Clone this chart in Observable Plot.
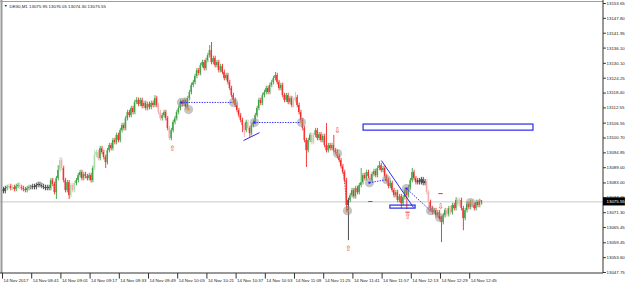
<!DOCTYPE html>
<html><head><meta charset="utf-8">
<script src="https://cdn.jsdelivr.net/npm/d3@7"></script>
<script src="https://cdn.jsdelivr.net/npm/@observablehq/plot@0.6"></script>
<style>html,body{margin:0;padding:0;background:#fff;overflow:hidden}</style>
</head><body><div id="chart"></div>
<script>
// ---- data ----
const symbol = "DE30,M1";
const titleOHLC = [13075.95, 13076.05, 13074.30, 13075.55];
const firstOpen = 13080.4;
const closes = [
13079.6,13080.8,13081.2,13081.6,13080.8,13081.2,13080.4,13081.6,13082.0,13081.2,
13080.8,13080.4,13080.0,13080.8,13081.2,13081.2,13081.6,13081.2,13082.0,13082.4,
13082.0,13081.6,13081.2,13080.8,13081.2,13080.8,13083.9,13082.4,13079.2,13084.7,
13087.9,13091.8,13088.7,13083.9,13080.0,13083.1,13078.0,13082.0,13080.0,13082.8,
13083.9,13085.9,13087.1,13084.7,13086.3,13085.5,13084.7,13085.9,13083.9,13088.7,
13093.8,13095.0,13092.6,13096.5,13095.0,13093.0,13091.0,13095.7,13097.7,13096.5,
13099.7,13098.9,13101.7,13099.7,13103.6,13105.6,13104.4,13108.3,13110.7,13109.5,
13112.3,13110.7,13114.7,13115.5,13113.9,13115.5,13113.1,13114.3,13112.3,13113.9,
13112.7,13114.3,13113.5,13116.2,13113.5,13110.7,13108.3,13109.5,13110.7,13108.3,
13104.4,13100.5,13103.6,13106.8,13108.3,13110.7,13112.3,13114.7,13113.9,13115.5,
13112.7,13116.2,13118.6,13121.4,13122.5,13124.9,13127.2,13126.1,13129.2,13130.4,
13128.0,13131.2,13133.1,13135.1,13130.4,13132.0,13129.2,13130.4,13127.2,13128.8,
13126.5,13124.1,13125.3,13122.5,13120.2,13117.4,13115.5,13113.5,13111.5,13109.5,
13107.6,13105.6,13103.6,13106.8,13104.4,13102.4,13105.6,13106.8,13109.5,13112.3,
13115.5,13114.3,13117.4,13118.6,13120.2,13118.6,13121.4,13122.5,13124.1,13125.3,
13122.5,13120.2,13121.4,13117.4,13115.5,13117.4,13114.7,13116.2,13113.5,13115.5,
13116.6,13113.5,13110.7,13107.6,13104.4,13099.7,13095.7,13099.7,13101.7,13098.9,
13101.7,13103.6,13100.5,13102.0,13099.7,13101.3,13097.7,13095.7,13097.7,13096.5,
13097.7,13095.7,13095.0,13093.4,13091.8,13089.4,13087.1,13083.9,13074.1,13076.1,
13078.0,13080.0,13077.6,13080.8,13079.2,13082.0,13083.1,13085.9,13084.7,13087.1,
13085.5,13083.9,13086.3,13087.5,13085.9,13088.7,13089.8,13087.9,13088.7,13085.5,
13083.9,13081.6,13082.8,13080.0,13078.0,13079.2,13076.1,13077.6,13074.9,13077.2,
13080.0,13078.0,13081.2,13083.9,13087.1,13084.7,13083.1,13083.9,13083.1,13084.3,
13082.8,13083.5,13079.2,13075.3,13072.9,13071.3,13072.1,13070.1,13071.3,13069.0,
13067.4,13070.1,13072.1,13070.5,13072.9,13071.3,13074.1,13072.9,13076.1,13074.5,
13076.1,13072.9,13069.0,13072.1,13074.5,13073.3,13075.3,13074.1,13072.9,13075.3,
13074.1,13075.7,13075.55
];
// bars whose wicks stick out noticeably (null = short wick)
const wickBars = [29,30,31,36,50,56,73,83,91,113,114,131,132,135,149,160,166,177,181,188,189,196,206,218,221,224,233,240,248,252];
const wickHigh = [null,13089.8,13093.0,null,13095.7,null,13116.6,13117.4,null,13137.1,13138.3,null,null,null,13126.5,13118.6,null,13106.4,13101.7,null,null,13088.7,13091.4,null,null,13088.7,null,null,13077.2,null];
const wickLow  = [13076.5,null,null,13076.5,null,13088.7,null,null,13099.7,null,null,13102.8,13100.9,13100.9,null,null,13089.1,null,null,13071.3,13060.3,null,null,13072.9,13072.5,null,13070.9,13059.5,null,13064.2];
const lightBars = [3,5,9,31,32,37,38,39,50,51,52,85,86,91,132,134,159,160,169,170,201,232,233,243,245,249,250,257];
const blackBars = [0,1,15,16,17,18,19,20,21,22,23,24,25,189,227,228,229,230,231];

const priceTicks = [13153.65,13147.80,13141.95,13136.10,13130.10,13124.25,13118.40,13112.55,13106.55,13100.70,13094.85,13089.00,13083.00,13077.15,13071.30,13065.45,13059.45,13053.60,13047.75];
const timeTickBars = [0,16,32,48,64,80,96,112,128,144,160,176,192,208,224,240,256];
const timeTickLabels = ["14 Nov 2017","14 Nov 08:41","14 Nov 09:01","14 Nov 09:17","14 Nov 09:33","14 Nov 09:49","14 Nov 10:05","14 Nov 10:21","14 Nov 10:37","14 Nov 10:53","14 Nov 11:09","14 Nov 11:25","14 Nov 11:41","14 Nov 11:57","14 Nov 12:13","14 Nov 12:29","14 Nov 12:45"];

// annotation objects (bar index, price)
const markerBar   = [97.5,101.4,126,137.5,163.3,183,188.5,200.5,209.9,220.8,234,239,255.9];
const markerPrice = [13114.7,13111.9,13114.7,13106.8,13106.8,13094.6,13072.1,13083.1,13084.3,13080.8,13072.1,13069.4,13075.3];
const markerDot   = ["#1a1aff","#ff8c00","#ff8c00","#1a1aff","#ff8c00","#ff8c00","#ff8c00","#1a1aff","#ff6000","#1a1aff","#ff8c00","#ff2000","#ff8c00"];
const dottedBlue = [[98.6,13114.7,126,13114.7],[138.6,13106.8,162.7,13106.8],[200.5,13083.1,209.9,13084.3],[220.8,13080.8,234,13072.1]];
const solidBlue  = [[131.5,13099.7,140.3,13102.8],[207.1,13091.8,224.7,13073.3]];
const dottedRed  = [[186.3,13087.1,188.5,13072.1]];
const boxes      = [[197.3,13106.0,290.4,13103.6],[212,13074.1,225.8,13072.9]];
const arrowsUp   = [[92.6,13096.5],[189,13057.2],[221.4,13069.8]];
const arrowsDown = [[183,13103.6],[239.5,13073.7]];
const redDashes  = [[201,13075.7],[221.4,13071.5],[239.5,13078.8]];

// ---- build candles ----
const n = closes.length;
const bars = closes.map((c, i) => {
  let o = i === 0 ? firstOpen : closes[i - 1];
  let hi = Math.max(o, c) + 0.9, lo = Math.min(o, c) - 0.9;
  const k = wickBars.indexOf(i);
  if (k >= 0) { if (wickHigh[k] != null) hi = wickHigh[k]; if (wickLow[k] != null) lo = wickLow[k]; }
  if (i === n - 1) { o = titleOHLC[0]; hi = titleOHLC[1]; lo = titleOHLC[2]; }
  const up = c >= o;
  let color;
  if (blackBars.includes(i)) color = "#3a3a3a";
  else if (lightBars.includes(i)) color = up ? "#a6dba6" : "#f7a8a8";
  else color = up ? "#3aa040" : "#f22a2a";
  return {i, o, c, hi, lo, color};
});

const xDom = [-1.644, 328.77];
const yDom = [13047.36, 13154.83];
const last = titleOHLC[3];
const font = "Liberation Sans, Arial, sans-serif";

const chart = Plot.plot({
  width: 625, height: 286,
  marginLeft: 0, marginRight: 22, marginTop: 0, marginBottom: 13,
  x: {type: "linear", domain: xDom, axis: null},
  y: {type: "linear", domain: yDom, axis: null},
  style: {background: "white", fontFamily: font, fontSize: "4.4px", overflow: "visible"},
  marks: [
    // current price line
    Plot.ruleY([last], {stroke: "#c8c8c8", strokeWidth: 1}),
    // candles
    Plot.ruleX(bars, {x: "i", y1: "lo", y2: "hi", stroke: "color", strokeWidth: 0.9}),
    Plot.rect(bars, {x1: d => d.i - 0.33, x2: d => d.i + 0.33, y1: "o", y2: "c", fill: "color"}),
    // pattern markers
    Plot.dot(markerBar, {x: d => d, y: (d, k) => markerPrice[k], r: 4.6, fill: "#8c8c8c", fillOpacity: 0.5}),
    Plot.dot(markerBar, {x: d => d, y: (d, k) => markerPrice[k], r: 1.1, symbol: "square", fill: (d, k) => markerDot[k]}),
    // lines
    Plot.link(dottedBlue, {x1: d => d[0], y1: d => d[1], x2: d => d[2], y2: d => d[3], stroke: "#2a2aff", strokeWidth: 1, strokeDasharray: "1.3,1.3"}),
    Plot.link(solidBlue, {x1: d => d[0], y1: d => d[1], x2: d => d[2], y2: d => d[3], stroke: "#2a2ae6", strokeWidth: 1}),
    Plot.link(dottedRed, {x1: d => d[0], y1: d => d[1], x2: d => d[2], y2: d => d[3], stroke: "#f03030", strokeWidth: 1, strokeDasharray: "1.3,1.3"}),
    Plot.rect(boxes, {x1: d => d[0], y1: d => d[1], x2: d => d[2], y2: d => d[3], fill: "none", stroke: "#2a2ae6", strokeWidth: 1.2}),
    Plot.link(redDashes, {x1: d => d[0] - 1.2, x2: d => d[0] + 1.2, y1: d => d[1], y2: d => d[1], stroke: "#f03030", strokeWidth: 1}),
    Plot.text(arrowsUp, {x: d => d[0], y: d => d[1], text: () => "\u21E7", fill: "#f03030", fontSize: 7.5, fontFamily: "DejaVu Sans"}),
    Plot.text(arrowsDown, {x: d => d[0], y: d => d[1], text: () => "\u21E9", fill: "#f03030", fontSize: 7.5, fontFamily: "DejaVu Sans"}),
    // frame
    Plot.ruleX([xDom[0]], {stroke: "#9a9a9a", strokeWidth: 2, dx: 1}),
    Plot.ruleY([yDom[1]], {stroke: "#a0a0a0", strokeWidth: 1, dy: 1}),
    Plot.ruleX([xDom[1]], {stroke: "#333", strokeWidth: 1, dx: -0.5}),
    Plot.ruleY([yDom[0]], {stroke: "#333", strokeWidth: 1, dy: -0.5}),
    // price axis
    Plot.ruleY(priceTicks, {x1: xDom[1], x2: xDom[1] + 1.6, stroke: "#333"}),
    Plot.text(priceTicks, {x: xDom[1], y: d => d, text: d => d.toFixed(2), textAnchor: "start", dx: 3, fill: "#222"}),
    // time axis
    Plot.ruleX(timeTickBars, {x: d => d, y1: yDom[0], y2: yDom[0] - 2.2, stroke: "#333", dx: -1}),
    Plot.text(timeTickBars, {x: d => d, y: yDom[0], text: (d, k) => timeTickLabels[k], textAnchor: "start", dx: 0, dy: 7.5, fill: "#222"}),
    // current price tag
    Plot.rect([last], {x1: xDom[1], x2: xDom[1] + 12, y1: d => d - 1.6, y2: d => d + 1.6, fill: "#000"}),
    Plot.text([last], {x: xDom[1], y: d => d, text: d => d.toFixed(2), textAnchor: "start", dx: 3, fill: "#fff"}),
    // title
    Plot.text([symbol], {frameAnchor: "top-left", text: d => `${d} ${titleOHLC.map(v => v.toFixed(2)).join(" ")}`, dx: 9, dy: 4, fill: "#222"}),
    Plot.text(["\u25BC"], {frameAnchor: "top-left", text: d => d, dx: 3.5, dy: 4, fill: "#111", fontSize: 3.5})
  ]
});
document.getElementById("chart").appendChild(chart);
</script>
</body></html>
